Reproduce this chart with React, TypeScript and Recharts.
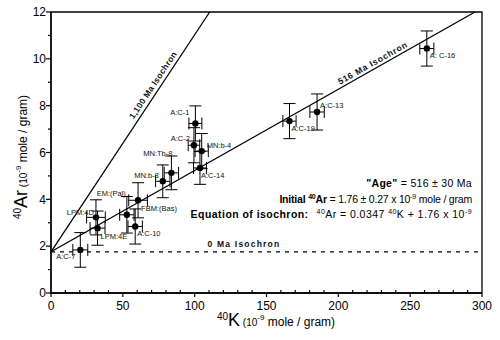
import React from "react";
import {
  ScatterChart,
  Scatter,
  XAxis,
  YAxis,
  ErrorBar,
  ReferenceLine,
  ReferenceArea,
} from "recharts";

// samples, 40K and 40Ar in 10^-9 mole / gram, with their error bars
const samples = [
  "A:C-1", "A:C-2", "MN:b-4", "A:C-14", "MN:Tb-8", "MN:b-8", "FBM:(Bas)", "EM:(Pal)",
  "A:C-10", "LPM:4D", "LPM:4E", "A:C-7", "A:C-19", "A:C-13", "A: C-16",
];
const k40 = [100.5, 99.5, 104.9, 103.7, 83.8, 77.8, 60.6, 52.8, 58.6, 31.3, 32.4, 20.4, 166, 185.2, 261.6];
const ar40 = [7.24, 6.31, 6.06, 5.34, 5.13, 4.77, 3.96, 3.34, 2.84, 3.23, 2.77, 1.84, 7.34, 7.73, 10.44];
const k40Err = [4.5, 4, 4.6, 4.5, 5, 5, 6.5, 5, 5, 6.5, 5.2, 5.2, 4.6, 5, 4.9];
const ar40Err = [0.75, 0.75, 0.75, 0.7, 0.72, 0.7, 0.75, 0.78, 0.75, 0.75, 0.73, 0.74, 0.75, 0.77, 0.75];

const xTicks = [0, 10, 20, 30, 40, 50, 60, 70, 80, 90, 100, 110, 120, 130, 140, 150, 160, 170, 180, 190, 200, 210, 220, 230, 240, 250, 260, 270, 280, 290, 300];
const yTicks = [0, 1, 2, 3, 4, 5, 6, 7, 8, 9, 10, 11, 12];

// isochrons: 40Ar = slope * 40K + intercept
const intercept = 1.76;
const slope516 = 0.0347;
const slope1100 = 0.0927;
const yTop = 12;
const xRight = 300;

const data = samples.map((name, i) => ({
  name,
  x: k40[i],
  y: ar40[i],
  errX: k40Err[i],
  errY: ar40Err[i],
}));

// label offsets around each point (px)
const labelPlace: Record<string, { dx: number; dy: number; anchor: string }> = {
  "A:C-1": { dx: -6, dy: -8, anchor: "end" },
  "A:C-2": { dx: -4, dy: -4, anchor: "end" },
  "MN:b-4": { dx: 5, dy: -3, anchor: "start" },
  "A:C-14": { dx: 1, dy: 10, anchor: "start" },
  "MN:Tb-8": { dx: 1, dy: -17, anchor: "end" },
  "MN:b-8": { dx: -4, dy: -3, anchor: "end" },
  "FBM:(Bas)": { dx: 3, dy: 10.5, anchor: "start" },
  "EM:(Pal)": { dx: -1, dy: -19, anchor: "end" },
  "A:C-10": { dx: 2, dy: 9.5, anchor: "start" },
  "LPM:4D": { dx: -2, dy: -2, anchor: "end" },
  "LPM:4E": { dx: 3, dy: 11, anchor: "start" },
  "A:C-7": { dx: -5, dy: 9.5, anchor: "end" },
  "A:C-19": { dx: 2, dy: 9.5, anchor: "start" },
  "A:C-13": { dx: 3, dy: -3.5, anchor: "start" },
  "A: C-16": { dx: 3, dy: 9.5, anchor: "start" },
};

const isoLabels = [
  { x: 75, y: intercept + slope1100 * 75, text: "1,100 Ma Isochron", angle: -56.4, dy: -4, anchor: "middle", spacing: 0.3 },
  { x: 226, y: intercept + slope516 * 226, text: "516 Ma Isochron", angle: -29.4, dy: -3, anchor: "middle", spacing: 0.8 },
  { x: 109, y: intercept, text: "0 Ma Isochron", angle: 0, dy: -5, anchor: "start", spacing: 1.2 },
];

const font = "'Liberation Sans', Arial, sans-serif";

const PointShape = (props: any) => {
  const { cx, cy, payload } = props;
  const p = labelPlace[payload.name];
  return (
    <g>
      <circle cx={cx} cy={cy} r={3.2} fill="#000" />
      <text x={cx + p.dx} y={cy + p.dy} textAnchor={p.anchor} fontSize={7.5} fontFamily={font} fill="#111">
        {payload.name}
      </text>
    </g>
  );
};

const IsoLabel = (props: any) => {
  const { cx, cy, payload } = props;
  return (
    <text
      x={cx}
      y={cy + payload.dy}
      textAnchor={payload.anchor}
      fontSize={8.5}
      fontWeight="bold"
      letterSpacing={payload.spacing}
      fontFamily={font}
      fill="#111"
      transform={`rotate(${payload.angle}, ${cx}, ${cy})`}
    >
      {payload.text}
    </text>
  );
};

const XTick = ({ x, y, payload }: any) => {
  const major = payload.value % 50 === 0;
  return (
    <g>
      <line x1={x} x2={x} y1={y} y2={major ? y + 4 : y - 3} stroke="#000" strokeWidth={1.2} />
      {major && (
        <text x={x} y={y + 17} textAnchor="middle" fontSize={12} fontFamily={font} fill="#000">
          {payload.value}
        </text>
      )}
    </g>
  );
};

const YTick = ({ x, y, payload }: any) => {
  const major = payload.value % 2 === 0;
  return (
    <g>
      <line x1={x} x2={x - (major ? 5 : 3)} y1={y} y2={y} stroke="#000" strokeWidth={1.2} />
      {major && (
        <text x={x - 5} y={y + 4.3} textAnchor="end" fontSize={12} fontFamily={font} fill="#000">
          {payload.value}
        </text>
      )}
    </g>
  );
};

export default function App() {
  return (
    <div style={{ position: "absolute", left: 0, top: 0, width: 500, height: 340 }}>
      <ScatterChart width={500} height={340} margin={{ top: 12, right: 18, left: 21, bottom: 17 }}>
        <XAxis
          type="number"
          dataKey="x"
          domain={[0, xRight]}
          ticks={xTicks}
          interval={0}
          allowDataOverflow
          height={30}
          tickSize={0}
          tickMargin={0}
          tickLine={false}
          tick={<XTick />}
          axisLine={{ stroke: "#000", strokeWidth: 1.3 }}
        />
        <YAxis
          type="number"
          dataKey="y"
          domain={[0, yTop]}
          ticks={yTicks}
          interval={0}
          allowDataOverflow
          width={30}
          tickSize={0}
          tickMargin={0}
          tickLine={false}
          tick={<YTick />}
          axisLine={{ stroke: "#000", strokeWidth: 1.3 }}
        />
        <ReferenceArea x1={0} x2={xRight} y1={0} y2={yTop} fill="none" stroke="#000" strokeWidth={1.3} />
        <ReferenceLine
          segment={[{ x: 0, y: intercept }, { x: xRight, y: intercept }]}
          stroke="#000"
          strokeWidth={1.2}
          strokeDasharray="4 5"
          ifOverflow="visible"
        />
        <ReferenceLine
          segment={[{ x: 0, y: intercept }, { x: (yTop - intercept) / slope516, y: yTop }]}
          stroke="#000"
          strokeWidth={1.3}
          ifOverflow="visible"
        />
        <ReferenceLine
          segment={[{ x: 0, y: intercept }, { x: (yTop - intercept) / slope1100, y: yTop }]}
          stroke="#000"
          strokeWidth={1.3}
          ifOverflow="visible"
        />
        <Scatter data={isoLabels} shape={IsoLabel} isAnimationActive={false} />
        <Scatter data={data} shape={PointShape} isAnimationActive={false}>
          <ErrorBar dataKey="errY" direction="y" width={6} stroke="#000" strokeWidth={1} />
          <ErrorBar dataKey="errX" direction="x" width={6} stroke="#000" strokeWidth={1} />
        </Scatter>
      </ScatterChart>
      <svg
        width={500}
        height={340}
        style={{ position: "absolute", left: 0, top: 0, pointerEvents: "none" }}
        fontFamily={font}
        fill="#000"
      >
        <text transform="rotate(-90, 27, 157)" x={27} y={157} textAnchor="middle">
          <tspan fontSize={10} dy={-6}>40</tspan>
          <tspan fontSize={18} dy={6}>Ar</tspan>
          <tspan fontSize={10}> (10</tspan>
          <tspan fontSize={8} dy={-6}>-9</tspan>
          <tspan fontSize={12} dy={6}> mole / gram)</tspan>
        </text>
        <text x={276} y={326} textAnchor="middle">
          <tspan fontSize={10} dy={-6}>40</tspan>
          <tspan fontSize={18} dy={6}>K</tspan>
          <tspan fontSize={10}> (10</tspan>
          <tspan fontSize={8} dy={-6}>-9</tspan>
          <tspan fontSize={12} dy={6}> mole / gram)</tspan>
        </text>
        <g fontSize={10.5}>
          <text x={472} y={186.5} textAnchor="end" letterSpacing={0.3}>
            <tspan fontWeight="bold">"Age"</tspan>
            <tspan> = 516 ±  30 Ma</tspan>
          </text>
          <text x={472} y={202.5} textAnchor="end" letterSpacing={-0.2}>
            <tspan fontWeight="bold">Initial </tspan>
            <tspan fontSize={7} fontWeight="bold" dy={-4}>40</tspan>
            <tspan fontWeight="bold" dy={4}>Ar</tspan>
            <tspan> = 1.76 ± 0.27 x 10</tspan>
            <tspan fontSize={7} dy={-4}>-9</tspan>
            <tspan dy={4}> mole / gram</tspan>
          </text>
          <text x={472} y={217.5} textAnchor="end" letterSpacing={0.45}>
            <tspan fontWeight="bold">Equation of isochron:</tspan>
            <tspan fontSize={7} dx={8} dy={-4}>40</tspan>
            <tspan dy={4}>Ar = 0.0347 </tspan>
            <tspan fontSize={7} dy={-4}>40</tspan>
            <tspan dy={4}>K + 1.76 x 10</tspan>
            <tspan fontSize={7} dy={-4}>-9</tspan>
          </text>
        </g>
      </svg>
    </div>
  );
}
